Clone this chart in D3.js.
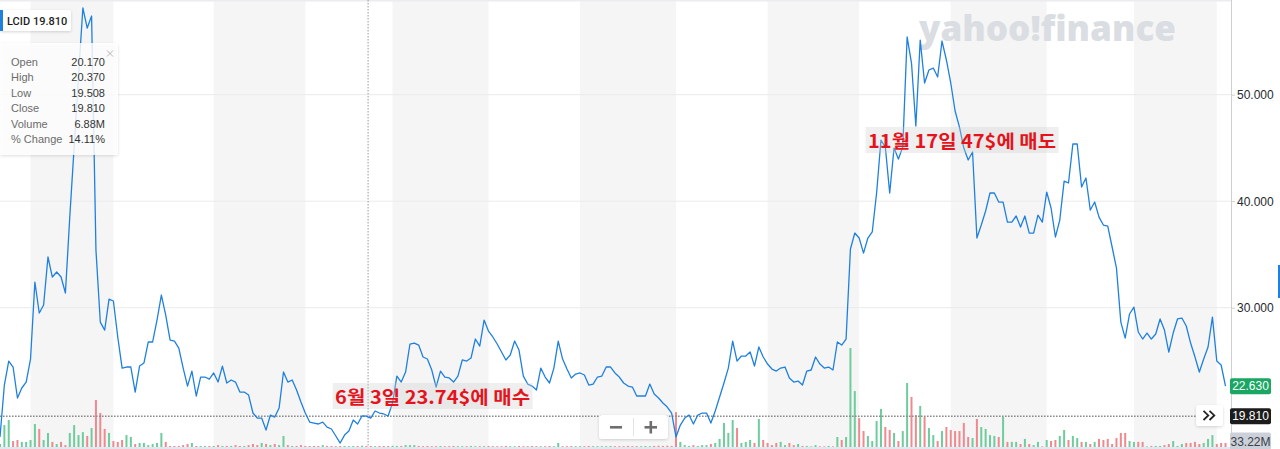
<!DOCTYPE html>
<html><head><meta charset="utf-8">
<script src="https://cdn.jsdelivr.net/npm/d3@7"></script>
<style>html,body{margin:0;padding:0;background:#fff;overflow:hidden}</style>
</head><body><svg id="c" width="1280" height="449"></svg>
<script>
// ---- data ----
const closes = [
17.86,22.74,24.99,24.43,21.52,22.46,23.02,25.18,32.41,29.50,
30.25,34.76,32.88,33.35,32.88,31.38,38.51,45.09,51.75,58.14,
56.26,57.39,35.41,28.65,27.90,30.81,30.63,27.25,24.33,24.43,
24.43,22.08,24.52,24.80,26.78,26.78,28.84,31.19,29.31,26.96,
26.87,26.21,24.33,22.64,24.05,21.71,23.49,23.49,23.30,23.87,
23.02,24.52,22.93,23.21,23.02,22.08,22.08,21.80,20.11,19.64,
19.64,18.51,19.92,19.73,20.58,23.96,23.02,23.21,22.27,21.14,
20.11,19.26,19.17,19.08,19.26,18.79,18.61,17.95,17.29,18.04,
18.42,19.45,19.08,19.83,19.81,19.64,20.30,20.11,20.02,19.83,
21.05,23.58,23.02,23.96,26.59,26.68,26.49,25.37,25.18,24.15,
22.55,24.05,23.49,23.40,23.02,23.58,25.09,24.99,25.27,27.06,
26.40,28.84,27.81,27.25,26.59,25.84,25.09,25.56,26.87,26.02,
23.58,22.83,22.64,22.27,24.33,23.49,22.93,24.33,26.87,25.18,
24.24,23.40,23.77,23.87,23.68,22.74,22.83,23.49,23.58,24.43,
24.43,23.87,23.49,22.93,22.64,22.55,21.71,21.71,21.71,22.83,
21.89,21.52,21.05,20.67,20.11,17.86,18.98,19.64,19.92,19.08,
19.92,20.11,20.11,19.17,20.30,21.61,22.93,24.33,26.87,24.99,
25.46,25.46,25.84,24.52,26.31,25.37,24.71,24.24,24.05,24.33,
24.43,23.40,23.02,23.11,22.74,24.05,24.15,25.37,24.71,24.33,
24.43,24.15,26.78,26.49,27.06,35.51,37.01,36.54,35.13,36.54,
37.11,40.77,45.74,45.09,40.77,44.99,43.96,45.09,55.42,52.97,
47.06,55.13,51.10,52.32,52.50,51.66,55.04,53.26,51.10,48.47,
46.96,44.99,43.87,44.62,36.54,37.76,39.08,40.77,40.77,39.92,
39.92,38.04,38.04,38.61,37.57,38.61,37.01,37.01,38.70,38.04,
40.86,39.36,36.64,38.23,41.89,41.71,45.37,45.37,41.33,42.18,
39.17,39.92,38.51,37.76,37.67,35.70,33.72,28.65,27.15,29.41,
30.06,27.72,27.06,27.62,27.06,27.53,28.94,27.90,25.84,27.62,
28.94,29.03,28.28,26.68,25.37,23.96,25.18,26.31,29.12,24.99,
24.62,22.63];
const volumes = [
14,103,127,28,33,24,24,33,108,85,
33,66,24,14,24,9,66,103,56,70,
52,89,221,160,85,66,28,24,33,56,
47,14,19,19,9,14,19,66,24,5,
5,5,9,14,19,5,5,5,5,5,
9,5,5,5,9,5,5,9,14,9,
19,14,9,14,9,52,9,5,5,9,
5,5,5,5,9,5,5,4,5,5,
4,5,5,6,5,5,4,5,5,5,
6,5,5,9,9,9,5,4,5,4,
4,5,4,4,5,4,4,4,5,4,
4,4,5,4,4,4,5,4,4,5,
4,4,5,4,4,4,5,4,19,4,
4,5,4,4,4,5,4,4,4,4,
5,4,4,4,5,4,4,4,5,4,
5,6,5,6,5,164,24,9,5,9,
5,9,9,14,19,38,113,66,127,89,
19,24,33,19,132,33,19,9,19,24,
9,19,9,14,5,5,3,9,3,3,
5,3,47,33,47,465,263,136,75,52,
28,122,179,94,80,66,28,75,301,235,
150,193,141,89,56,28,75,94,80,75,
75,113,47,42,132,94,85,56,52,47,
141,24,24,24,14,38,14,9,24,3,
33,28,33,52,80,33,52,42,24,24,
14,24,38,33,38,14,42,66,66,28,
24,24,24,3,5,5,5,9,14,28,
5,14,19,19,24,14,19,38,56,14,
19,19];
const monthStarts = [7,26,49,70,90,112,133,155,176,197,218,240,260,279];
const yTicks = [30,40,50];
const symbol = "LCID";
const refClose = 19.81;
const hoverIndex = 84.4;
const lastVolumeLabel = "33.22M";
const tooltipLabels = ["Open","High","Low","Close","Volume","% Change"];
const tooltipValues = ["20.170","20.370","19.508","19.810","6.88M","14.11%"];
const annotationTexts = ["6월 3일 23.74$에 매수","11월 17일 47$에 매도"];
const annotationIndex = [99.2, 220.6];
const annotationValue = [21.71, 45.75];

// ---- drawing ----
const W = 1280, H = 449, plotR = 1231, plotB = 447;
const svg = d3.select("#c");
const defs = svg.append("defs");
const f = defs.append("filter").attr("id","sh").attr("x","-20%").attr("y","-20%").attr("width","140%").attr("height","150%");
f.append("feDropShadow").attr("dx",0).attr("dy",1).attr("stdDeviation",1.6).attr("flood-color","#000").attr("flood-opacity",0.16);
defs.append("clipPath").attr("id","plot").append("rect").attr("x",0).attr("y",0).attr("width",plotR).attr("height",plotB);

const x = d3.scaleLinear().domain([0, closes.length-1]).range([0, 1225.5]);
const y = d3.scaleLinear().domain([30,50]).range([307.7,94.7]);
const vy = d3.scaleLinear().domain([0,470]).range([plotB, plotB-100]);

svg.append("rect").attr("width",W).attr("height",H).attr("fill","#fff");
// month bands
const bands = [];
for (let i=0;i+1<monthStarts.length;i+=2) bands.push([monthStarts[i], monthStarts[i+1]]);
svg.append("g").selectAll("rect").data(bands).join("rect")
  .attr("x", d=>x(d[0])).attr("width", d=>x(d[1])-x(d[0]))
  .attr("y",1).attr("height",H).attr("fill","#f5f5f5");
svg.append("rect").attr("x",0).attr("y",0).attr("width",plotR).attr("height",1.5).attr("fill","#ececf0");

// grid
svg.append("g").selectAll("line").data(yTicks).join("line")
  .attr("x1",0).attr("x2",plotR).attr("y1",d=>y(d)).attr("y2",d=>y(d))
  .attr("stroke","#ebebeb").attr("stroke-width",1);

// watermark
svg.append("text").attr("x",919).attr("y",41)
  .attr("font-family","'Open Sans', sans-serif").attr("font-weight",800).attr("font-size",36)
  .attr("fill","#dadde2").attr("textLength",257).attr("lengthAdjust","spacingAndGlyphs")
  .text("yahoo!finance");

// volume bars
svg.append("g").attr("clip-path","url(#plot)").selectAll("rect").data(volumes).join("rect")
  .attr("x",(d,i)=>x(i)-1).attr("width",2)
  .attr("y",d=>vy(d)).attr("height",d=>plotB-vy(d))
  .attr("fill",(d,i)=> (i===0 || closes[i]>=closes[i-1]) ? "#6fcc9c" : "#ee8a8f");

// bottom strip
svg.append("rect").attr("x",0).attr("y",plotB).attr("width",plotR).attr("height",2).attr("fill","#e3e6ee");

// crosshair + ref line
svg.append("line").attr("x1",x(hoverIndex)).attr("x2",x(hoverIndex)).attr("y1",0).attr("y2",plotB)
  .attr("stroke","#9a9a9a").attr("stroke-width",1).attr("stroke-dasharray","1.5,1.5");
svg.append("line").attr("x1",0).attr("x2",1200).attr("y1",y(refClose)).attr("y2",y(refClose))
  .attr("stroke","#8c8c8c").attr("stroke-width",1.4).attr("stroke-dasharray","1.6,1.4");

// price line
svg.append("path").datum(closes).attr("clip-path","url(#plot)")
  .attr("d", d3.line().x((d,i)=>x(i)).y(d=>y(d)))
  .attr("fill","none").attr("stroke","#1f80df").attr("stroke-width",1.3).attr("stroke-linejoin","round");

// annotations
const annW = [200,193];
annotationTexts.forEach((t,k)=>{
  const cx = x(annotationIndex[k]), cy = y(annotationValue[k]);
  svg.append("rect").attr("x",cx-annW[k]/2).attr("y",cy-13).attr("width",annW[k]).attr("height",26)
    .attr("fill","rgba(205,205,205,0.32)");
  svg.append("text").attr("x",cx).attr("y",cy).attr("text-anchor","middle").attr("dominant-baseline","central")
    .attr("font-family","'Noto Sans CJK KR', sans-serif").attr("font-weight",700).attr("font-size",18)
    .attr("fill","#e5141c").attr("textLength",annW[k]-5).attr("lengthAdjust","spacingAndGlyphs").text(t);
});

// right axis
svg.append("line").attr("x1",plotR+0.5).attr("x2",plotR+0.5).attr("y1",0).attr("y2",H).attr("stroke","#cfcfcf");
const ax = svg.append("g").attr("transform",`translate(${plotR},0)`)
  .call(d3.axisRight(y).tickValues(yTicks).tickFormat(d3.format(".3f")).tickSize(4).tickPadding(2));
ax.select(".domain").remove();
ax.selectAll("line").attr("stroke","#d0d0d0");
ax.selectAll("text").attr("font-family","'Liberation Sans', Arial, sans-serif").attr("font-size",12).attr("fill","#26292e");

// right-side price labels
function tag(v, txt, bg, fg){
  const cy = y(v);
  svg.append("rect").attr("x",plotR-1).attr("y",cy-8).attr("width",41).attr("height",16).attr("rx",2).attr("fill",bg);
  svg.append("text").attr("x",plotR+19.5).attr("y",cy).attr("text-anchor","middle").attr("dominant-baseline","central")
    .attr("font-family","'Liberation Sans', Arial, sans-serif").attr("font-size",12).attr("fill",fg).text(txt);
}
tag(closes[closes.length-1], d3.format(".3f")(closes[closes.length-1]), "#1aa763", "#fff");
tag(refClose, d3.format(".3f")(refClose), "#1c1c1c", "#fff");
svg.append("rect").attr("x",plotR-1).attr("y",432.5).attr("width",41).attr("height",17).attr("rx",2).attr("fill","#ccd0d9");
svg.append("text").attr("x",plotR+19.5).attr("y",441.5).attr("text-anchor","middle").attr("dominant-baseline","central")
  .attr("font-family","'Liberation Sans', Arial, sans-serif").attr("font-size",12).attr("fill","#3a3f48").text(lastVolumeLabel);
svg.append("rect").attr("x",1278).attr("y",265).attr("width",2).attr("height",33).attr("fill","#1f80df");

// >> button
svg.append("rect").attr("x",1196).attr("y",405).attr("width",27).attr("height",21).attr("rx",3)
  .attr("fill","#fff").attr("filter","url(#sh)");
[0,6].forEach(o=>{
  svg.append("path").attr("d",`M${1203.5+o},410.8 L${1208.3+o},415.4 L${1203.5+o},420`)
    .attr("fill","none").attr("stroke","#232323").attr("stroke-width",1.8);
});

// zoom control
svg.append("rect").attr("x",599).attr("y",415).attr("width",69).attr("height",24).attr("rx",3)
  .attr("fill","#fff").attr("filter","url(#sh)");
svg.append("line").attr("x1",633.5).attr("x2",633.5).attr("y1",418).attr("y2",436).attr("stroke","#e2e2e2");
svg.append("line").attr("x1",610).attr("x2",622).attr("y1",427.3).attr("y2",427.3).attr("stroke","#6e6e6e").attr("stroke-width",2.6);
svg.append("line").attr("x1",644.5).attr("x2",657).attr("y1",427.3).attr("y2",427.3).attr("stroke","#6e6e6e").attr("stroke-width",2.6);
svg.append("line").attr("x1",650.8).attr("x2",650.8).attr("y1",421).attr("y2",433.5).attr("stroke","#6e6e6e").attr("stroke-width",2.6);

// symbol label
svg.append("rect").attr("x",0).attr("y",10).attr("width",71).attr("height",21).attr("rx",2).attr("fill","#fff").attr("filter","url(#sh)");
svg.append("rect").attr("x",0).attr("y",10).attr("width",3).attr("height",21).attr("fill","#1f80df");
const lt = svg.append("text").attr("x",7).attr("y",24.5).attr("font-family","Roboto, 'Liberation Sans', sans-serif")
  .attr("font-size",11).attr("font-weight",500).attr("fill","#1d1d1d");
lt.append("tspan").text(symbol);
lt.append("tspan").attr("x",33).text(d3.format(".3f")(refClose));

// tooltip
svg.append("rect").attr("x",0).attr("y",43).attr("width",118).attr("height",112).attr("rx",2)
  .attr("fill","rgba(255,255,255,0.82)").attr("filter","url(#sh)");
const tg = svg.append("g").attr("font-family","'Liberation Sans', Arial, sans-serif").attr("font-size",11);
tooltipLabels.forEach((l,i)=>{
  const by = 65.5 + i*15.5;
  tg.append("text").attr("x",11).attr("y",by).attr("fill","#6b6b6b").text(l);
  tg.append("text").attr("x",105).attr("y",by).attr("text-anchor","end").attr("fill","#333").text(tooltipValues[i]);
});
svg.append("path").attr("d","M107,50.5 L113,56.5 M113,50.5 L107,56.5").attr("stroke","#b5b5b5").attr("stroke-width",1);
</script></body></html>
